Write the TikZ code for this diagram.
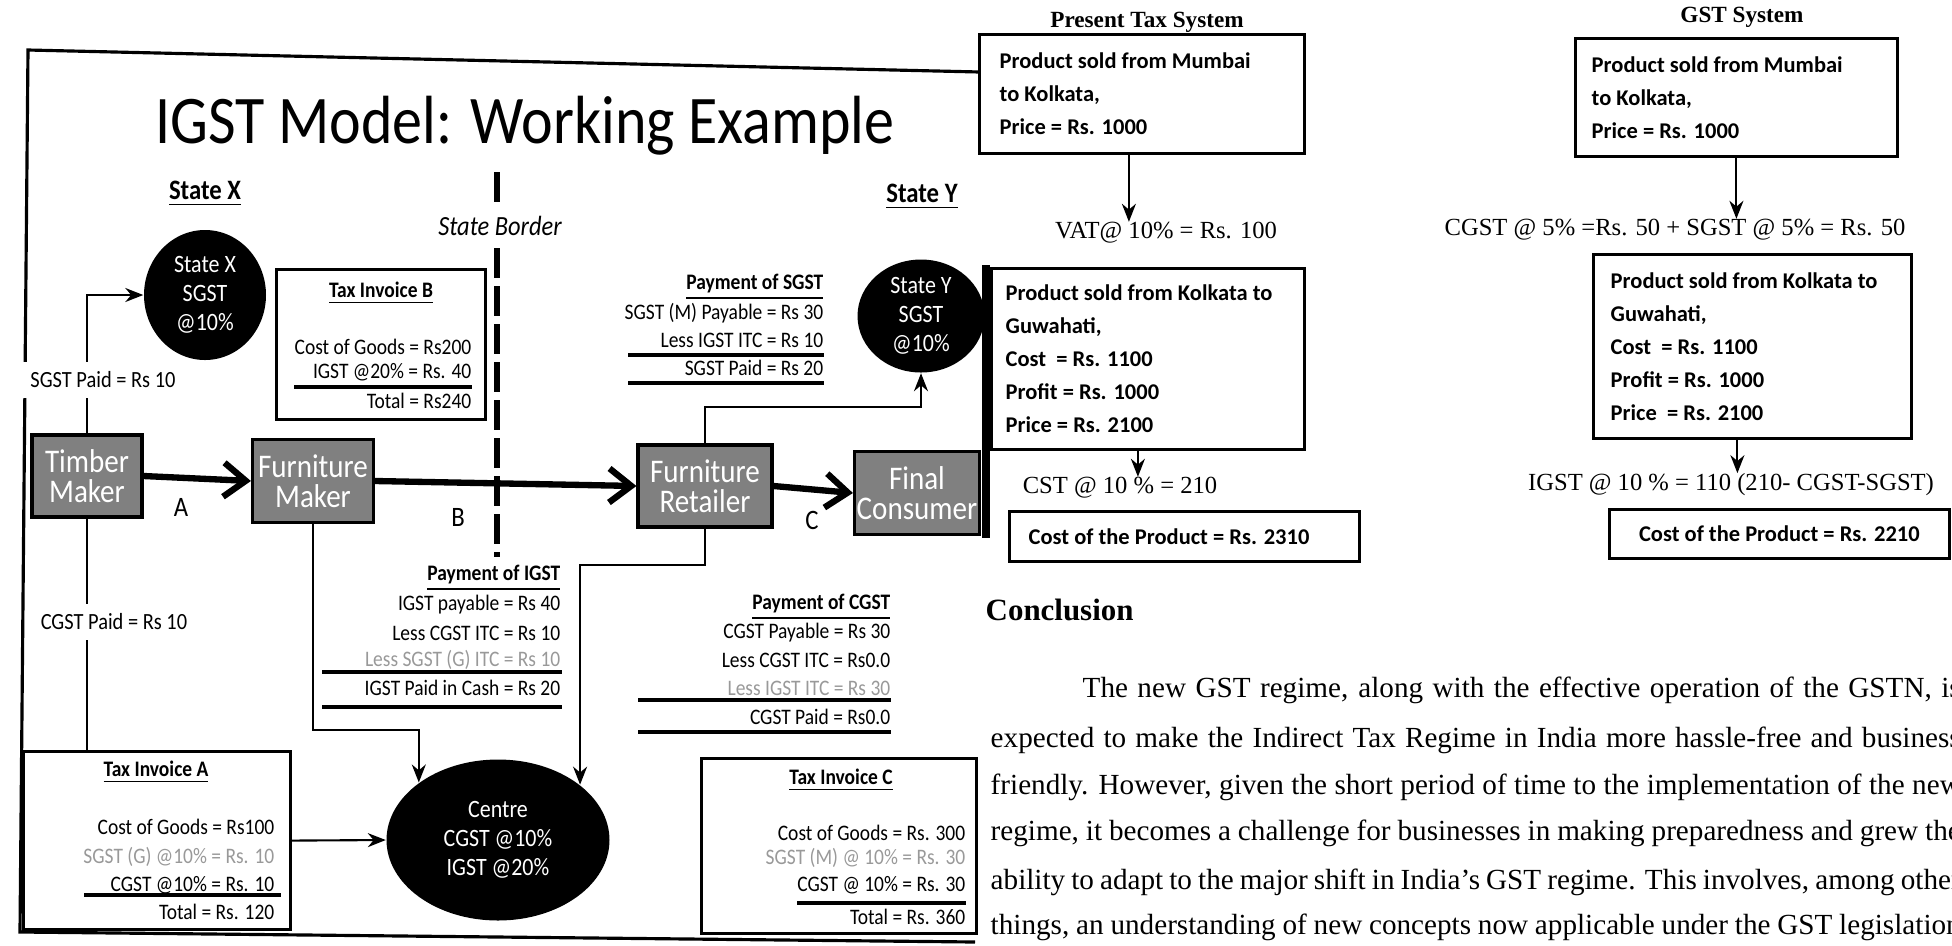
\documentclass[tikz,border=0pt]{standalone}
\usepackage{fontspec}
\setmainfont{Liberation Serif}
\newfontfamily\slidefont[FakeStretch=0.88]{Carlito}
\newfontfamily\boxfont{Carlito}
\usetikzlibrary{arrows.meta,positioning,shapes.geometric}

\newcommand{\fsz}[2]{\fontsize{#1}{#2}\selectfont}

\begin{document}
\begin{tikzpicture}[x=0.1mm, y=-0.1mm,
  every node/.style={inner sep=0pt},
  entity/.style={draw, line width=0.9pt, fill=black!50, text=white,
    font=\slidefont\fsz{9.4}{8.5}, align=center},
  pot/.style={ellipse, fill=black, text=white, font=\slidefont\fsz{7.1}{8.3}, align=center},
  flow/.style={line width=1.8pt, -{Straight Barb[length=2.2mm,width=3.4mm]}},
  pay/.style={line width=0.6pt, -{Stealth[length=1.8mm,width=1.4mm]}},
  link/.style={line width=0.6pt},
  inv/.style={draw, line width=0.9pt, anchor=north west},
  amt/.style={anchor=east, font=\slidefont\fsz{6.3}{7.7}},
  faded/.style={amt, text=black!40},
  hd/.style={font=\slidefont\bfseries\fsz{6.3}{7.7}},
  paid/.style={fill=white, inner sep=1mm, font=\slidefont\fsz{6.6}{8}},
  rule/.style={line width=0.9pt},
  pg/.style={font=\fsz{7}{9}},
  pbox/.style={draw, line width=0.8pt, anchor=north west},
  ptext/.style={align=left, font=\boxfont\bfseries\fsz{6.4}{9.4}},
  para/.style={anchor=west, font=\fsz{8.3}{10}}
]
\useasboundingbox (0,0) rectangle (1952,945);
\clip (0,0) rectangle (1952,945);

% ---- slide: IGST model ----
\draw[line width=0.9pt] (980,72) -- (28,50) -- (20,932) -- (975,942);
\node[font=\slidefont\fsz{19.4}{22}, anchor=base] (title) at (525,143) {IGST Model: Working Example};
\node[font=\slidefont\bfseries\fsz{8}{9}] (stx) at (205,194) {\underline{State X}};
\node[font=\slidefont\bfseries\fsz{8}{9}] (sty) at (922,197) {\underline{State Y}};

% state border
\coordinate (btop) at (497,172);
\coordinate (bbot) at (497,557);
\draw[line width=1.8pt, dash pattern=on 3mm off 0.8mm] (btop) -- (bbot);
\node[fill=white, inner sep=1mm, font=\slidefont\itshape\fsz{7.9}{9}] (border) at (500,226) {State Border};

% tax pots
\node[pot, minimum width=12.2mm, minimum height=13mm] (sx) at (205,295) {State X\\SGST\\@10\%};
\node[pot, minimum width=12.7mm, minimum height=11.3mm] (sy) at (921,316) {State Y\\SGST\\@10\%};
\node[pot, minimum width=22.3mm, minimum height=16.1mm] (centre) at (498,840) {Centre\\CGST @10\%\\IGST @20\%};

% traders
\node[entity, minimum width=11mm, minimum height=8.2mm] (tm) at (87,476) {Timber\\Maker};
\node[entity, minimum width=12.1mm, minimum height=8.3mm] (fm) at (313,481) {Furniture\\Maker};
\node[entity, minimum width=13.4mm, minimum height=8.2mm] (fr) at (705,486) {Furniture\\Retailer};
\node[entity, minimum width=12.5mm, minimum height=8.3mm] (fc) at (917,493) {Final\\Consumer};

\draw[flow] (tm.east) -- (fm.west);
\draw[flow] (fm.east) -- (fr.west);
\draw[flow] (fr.east) -- (fc.west);
\node[font=\slidefont\fsz{8}{9}] (la) at (181,507) {A};
\node[font=\slidefont\fsz{8}{9}] (lb) at (458,517) {B};
\node[font=\slidefont\fsz{8}{9}] (lc) at (812,520) {C};

% tax invoice B
\node[inv, minimum width=20.9mm, minimum height=15mm] (invB) at (275,268) {};
\node[hd] (b0) at (381,293) {\underline{Tax Invoice B}};
\node[amt] (b1) at (472,347) {Cost of Goods = Rs200};
\node[amt] (b2) at (472,372) {IGST @20\% = Rs. 40};
\draw[rule] (294,387) -- (472,387);
\node[amt] (b3) at (472,401) {Total = Rs240};

% tax invoice A
\node[inv, minimum width=26.7mm, minimum height=17.8mm] (invA) at (22,750) {};
\node[hd] (a0) at (156,772) {\underline{Tax Invoice A}};
\node[amt] (a1) at (275,827) {Cost of Goods = Rs100};
\node[faded] (a2) at (275,857) {SGST (G) @10\% = Rs. 10};
\node[amt] (a3) at (275,885) {CGST @10\% = Rs. 10};
\draw[rule] (84,895) -- (281,895);
\node[amt] (a4) at (275,912) {Total = Rs. 120};

% tax invoice C
\node[inv, minimum width=27.5mm, minimum height=17.5mm] (invC) at (700,757) {};
\node[hd] (c0) at (841,780) {\underline{Tax Invoice C}};
\node[amt] (c1) at (966,833) {Cost of Goods = Rs. 300};
\node[faded] (c2) at (966,858) {SGST (M) @ 10\% = Rs. 30};
\node[amt] (c3) at (966,885) {CGST @ 10\% = Rs. 30};
\draw[rule] (797,903) -- (966,903);
\node[amt] (c4) at (966,917) {Total = Rs. 360};

% payment of SGST
\node[hd, anchor=east] (s0) at (824,287) {\underline{Payment of SGST}};
\node[amt] (s1) at (824,313) {SGST (M) Payable = Rs 30};
\node[amt] (s2) at (824,340) {Less IGST ITC = Rs 10};
\draw[rule] (628,355) -- (824,355);
\node[amt] (s3) at (824,368) {SGST Paid = Rs 20};
\draw[rule] (628,383) -- (824,383);

% payment of IGST
\node[hd, anchor=east] (i0) at (561,578) {\underline{Payment of IGST}};
\node[amt] (i1) at (561,605) {IGST payable = Rs 40};
\node[amt] (i2) at (561,633) {Less CGST ITC = Rs 10};
\node[faded] (i3) at (561,660) {Less SGST (G) ITC = Rs 10};
\draw[rule] (322,672) -- (562,672);
\node[amt] (i4) at (561,688) {IGST Paid in Cash = Rs 20};
\draw[rule] (322,707) -- (562,707);

% payment of CGST
\node[hd, anchor=east] (g0) at (891,607) {\underline{Payment of CGST}};
\node[amt] (g1) at (891,633) {CGST Payable = Rs 30};
\node[amt] (g2) at (891,660) {Less CGST ITC = Rs0.0};
\node[faded] (g3) at (891,688) {Less IGST ITC = Rs 30};
\draw[rule] (638,700) -- (891,700);
\node[amt] (g4) at (891,717) {CGST Paid = Rs0.0};
\draw[rule] (638,732) -- (891,732);

% tax flows
\draw[pay] (tm.north) |- (sx.west);
\node[paid] (sgstpaid) at (103,380) {SGST Paid = Rs 10};
\draw[link] (tm.south) -- (tm.south |- invA.north);
\node[paid] (cgstpaid) at (114,622) {CGST Paid = Rs 10};
\draw[pay] (invA.east) -- (centre.west);
\draw[pay] (fm.south) |- (centre.144 |- 0,730) -- (centre.144);
\draw[pay] (fr.south) |- (centre.34 |- 0,565) -- (centre.34);
\draw[pay] (fr.north) |- (sy.south |- 0,407) -- (sy.south);

% ---- page: present tax system ----
\node[pg, font=\bfseries\fsz{6.6}{8}] (pts) at (1147,22) {Present Tax System};
\node[pbox, minimum width=32.5mm, minimum height=11.9mm] (p1) at (978,33) {};
\node[ptext, right=2.1mm of p1.west] (p1t) {Product sold from Mumbai\\to Kolkata,\\Price = Rs. 1000};
\node[pg] (vat) at (1166,233) {VAT@ 10\% = Rs. 100};
\draw[pay] ([xshift=-1.3mm]p1.south) -- ([xshift=-1.3mm]p1.south |- vat.north);
\node[pbox, minimum width=31.3mm, minimum height=18.1mm] (p2) at (990,267) {};
\draw[line width=2.5pt] (986,265) -- (986,538);
\node[ptext, right=1.5mm of p2.west] (p2t) {Product sold from Kolkata to\\Guwahati,\\Cost \ = Rs. 1100\\Profit = Rs. 1000\\Price = Rs. 2100};
\node[pg] (cst) at (1120,488) {CST @ 10 \% = 210};
\draw[pay] ([xshift=-1mm]p2.south) -- ([xshift=-1mm]p2.south |- cst.north);
\node[pbox, minimum width=35mm, minimum height=5mm] (p3) at (1008,510) {};
\node[ptext, right=2mm of p3.west] (p3t) {Cost of the Product = Rs. 2310};

% ---- page: GST system ----
\node[pg, font=\bfseries\fsz{6.6}{8}] (gsts) at (1742,17) {GST System};
\node[pbox, minimum width=32.2mm, minimum height=11.8mm] (q1) at (1574,37) {};
\node[ptext, right=1.7mm of q1.west] (q1t) {Product sold from Mumbai\\to Kolkata,\\Price = Rs. 1000};
\node[pg] (split) at (1675,230) {CGST @ 5\% =Rs. 50 + SGST @ 5\% = Rs. 50};
\draw[pay] (q1.south) -- (q1.south |- split.north);
\node[pbox, minimum width=31.8mm, minimum height=18.4mm] (q2) at (1592,253) {};
\node[ptext, right=1.8mm of q2.west] (q2t) {Product sold from Kolkata to\\Guwahati,\\Cost \ = Rs. 1100\\Profit = Rs. 1000\\Price \ = Rs. 2100};
\node[pg] (igst) at (1731,485) {IGST @ 10 \% = 110 (210- CGST-SGST)};
\draw[pay] ([xshift=-1.5mm]q2.south) -- ([xshift=-1.5mm]q2.south |- igst.north);
\node[pbox, minimum width=34mm, minimum height=4.9mm] (q3) at (1608,508) {};
\node[ptext] (q3t) at (q3.center) {Cost of the Product = Rs. 2210};

% ---- conclusion ----
\node[anchor=west, font=\bfseries\fsz{8.8}{10}] (concl) at (985,610) {Conclusion};
\node[para] (l1) at (1082,690) {\makebox[87.8mm][s]{The new GST regime, along with the effective operation of the GSTN, is}};
\node[para] (l2) at (990,740) {\makebox[97mm][s]{expected to make the Indirect Tax Regime in India more hassle-free and business}};
\node[para] (l3) at (990,787) {\makebox[97mm][s]{friendly. However, given the short period of time to the implementation of the new}};
\node[para] (l4) at (990,833) {\makebox[97mm][s]{regime, it becomes a challenge for businesses in making preparedness and grew the}};
\node[para] (l5) at (990,882) {\makebox[97mm][s]{ability to adapt to the major shift in India's GST regime. This involves, among other}};
\node[para] (l6) at (990,927) {\makebox[97mm][s]{things, an understanding of new concepts now applicable under the GST legislation}};
\end{tikzpicture}
\end{document}
